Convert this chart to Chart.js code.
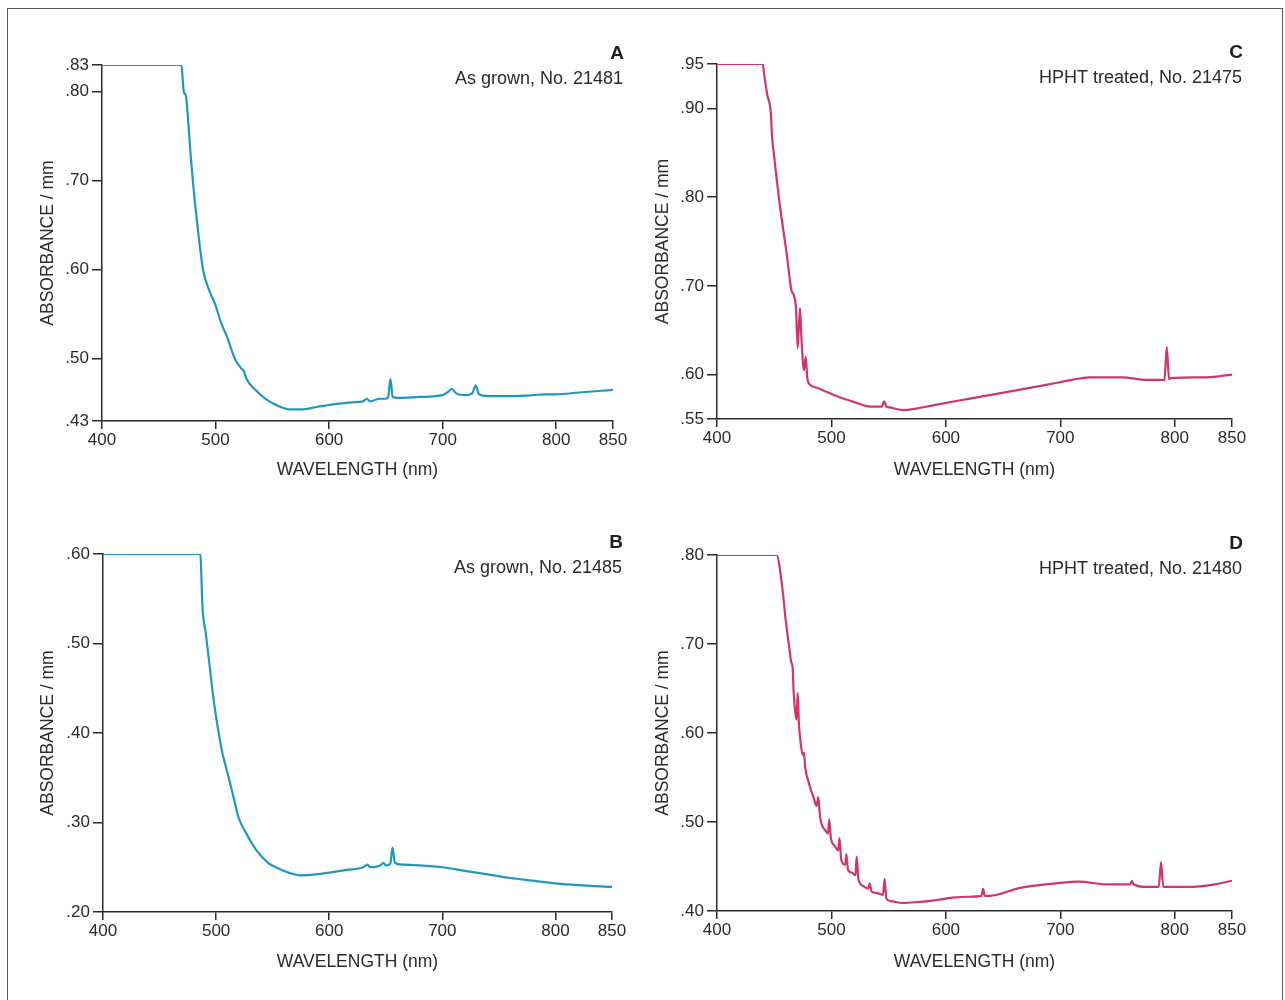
<!DOCTYPE html>
<html>
<head>
<meta charset="utf-8">
<script src="https://cdn.jsdelivr.net/npm/chart.js@4.4.1/dist/chart.umd.min.js"></script>
<style>
    body { margin: 0; background: #fff; width: 1285px; height: 1000px; overflow: hidden; position: relative; }
    .frame { position: absolute; left: 7px; top: 8px; width: 1276px; height: 1010px; border: 1.5px solid #555; box-sizing: border-box; }
    canvas { position: absolute; }
</style>
</head>
<body>
<div class="frame"></div>
<canvas id="chartA" width="620" height="454" style="left:20px; top:25px;"></canvas>
<canvas id="chartC" width="620" height="454" style="left:635px; top:25px;"></canvas>
<canvas id="chartB" width="620" height="456" style="left:20px; top:515px;"></canvas>
<canvas id="chartD" width="620" height="456" style="left:635px; top:515px;"></canvas>
<script>
// wavelength ticks shared by all four panels
const xTicks = [400, 500, 600, 700, 800, 850];

// A - as grown, No. 21481
const aWave = [400, 470, 471, 472, 474, 476, 478, 480, 484, 489, 495, 500, 505, 510, 517, 522, 525, 527, 535, 545,
    555, 565, 575, 590, 600, 620, 630, 633, 636, 645, 650, 652, 654, 656, 660, 680, 700, 705, 708, 712,
    720, 726, 729, 732, 740, 760, 780, 790, 800, 820, 840, 850];
const aAbs = [.83, .83, .815, .80, .795, .765, .73, .70, .65, .60, .575, .56, .54, .525, .50, .49, .486, .478, .465, .454,
    .447, .443, .443, .446, .448, .451, .452, .455, .452, .455, .455, .457, .477, .457, .456, .457, .459, .463, .466, .461,
    .459, .461, .470, .460, .458, .458, .459, .46, .460, .462, .464, .465];
const aTicks = [.43, .50, .60, .70, .80, .83];

// B - as grown, No. 21485
const bWave = [400, 486, 488, 491, 494, 497, 500, 505, 511, 516, 520, 527, 535, 546, 556, 564, 575, 588, 600, 615,
    630, 634, 636, 645, 648, 650, 654, 656, 658, 665, 680, 700, 720, 740, 760, 780, 800, 820, 850];
const bAbs = [.60, .60, .54, .51, .478, .445, .418, .381, .351, .325, .305, .287, .27, .255, .248, .244, .241, .242, .244, .247,
    .25, .253, .25, .252, .255, .252, .254, .272, .255, .253, .252, .25, .246, .242, .238, .235, .232, .23, .228];
const bTicks = [.20, .30, .40, .50, .60];

// C - HPHT treated, No. 21475
const cWave = [400, 440, 441, 444, 447, 448, 450, 455, 461, 465, 467, 469, 470.5, 472.5, 474, 476, 477.5, 479, 482, 488,
    495, 506, 520, 534, 544, 546, 548, 551, 563, 575, 591, 621, 660, 690, 710, 725, 754, 775, 789, 791,
    793, 795, 797, 828, 850];
const cAbs = [.95, .95, .94, .915, .895, .87, .845, .79, .735, .695, .69, .675, .63, .675, .635, .605, .62, .595, .588, .585,
    .581, .575, .569, .564, .564, .570, .564, .563, .560, .562, .566, .573, .582, .589, .594, .597, .597, .594, .594, .594,
    .631, .595, .596, .597, .60];
const cTicks = [.55, .60, .70, .80, .90, .95];

// D - HPHT treated, No. 21480
const dWave = [400, 452, 457, 460, 463, 465, 466, 467, 468.5, 469.5, 470.5, 471.5, 473, 475, 476, 477, 480, 485, 487, 488.5,
    490, 495, 497, 498, 499.5, 503, 506, 507, 508.5, 512, 513, 514.5, 518, 521, 522, 523.5, 528, 532, 533.5, 535,
    540, 545, 546.5, 548, 552, 562, 575, 590, 606, 620, 631, 632.5, 634, 638, 665, 696, 716, 740, 761, 762.5,
    764, 775, 786, 788, 790, 812, 835, 850];
const dAbs = [.80, .80, .764, .727, .697, .679, .675, .645, .622, .615, .645, .612, .59, .575, .578, .562, .545, .525, .518, .528,
    .506, .49, .487, .503, .482, .473, .468, .482, .458, .452, .464, .446, .443, .44, .461, .436, .428, .425, .431, .422,
    .42, .418, .436, .414, .411, .409, .41, .412, .415, .416, .417, .425, .417, .417, .426, .431, .433, .43, .43, .434,
    .43, .427, .427, .455, .427, .427, .43, .434];
const dTicks = [.40, .50, .60, .70, .80];

const panelLetters = ['A', 'B', 'C', 'D'];
const panelNames = ['As grown, No. 21481', 'As grown, No. 21485', 'HPHT treated, No. 21475', 'HPHT treated, No. 21480'];

const FONT = '"Liberation Sans", Arial, Helvetica, sans-serif';
const INK = '#2a2a2a';

// letter + sample name in the top right corner of each plot
const panelLabels = {
    id: 'panelLabels',
    afterDraw(chart, args, opts) {
        const { ctx, chartArea } = chart;
        ctx.save();
        ctx.fillStyle = '#1e1e1e';
        ctx.textAlign = 'right';
        ctx.textBaseline = 'middle';
        ctx.font = 'bold 19px ' + FONT;
        ctx.fillText(opts.letter, chartArea.right + 11, chartArea.top - 11);
        ctx.font = '18px ' + FONT;
        ctx.fillStyle = '#2a2a2a';
        ctx.fillText(opts.name, chartArea.right + 10, chartArea.top + 14);
        ctx.restore();
    }
};

function makePanel(id, idx, wave, abs, yTicks, color, box) {
    const points = wave.map((w, i) => ({ x: w, y: abs[i] }));
    const config = {
        type: 'line',
        data: {
            datasets: [{
                data: points,
                borderColor: color,
                borderWidth: 2.2,
                pointRadius: 0,
                cubicInterpolationMode: 'monotone',
                fill: false
            }]
        },
        options: {
            responsive: false,
            animation: false,
            devicePixelRatio: 1,
            layout: { padding: { top: box.padTop, right: box.padRight, left: 0, bottom: 0 } },
            scales: {
                x: {
                    type: 'linear',
                    min: 400,
                    max: 850,
                    afterBuildTicks: s => { s.ticks = xTicks.map(v => ({ value: v })); },
                    afterFit: s => { s.height = box.xH; },
                    ticks: {
                        color: INK,
                        padding: 1,
                        autoSkip: false,
                        maxRotation: 0,
                        font: { family: FONT, size: 17 }
                    },
                    grid: { drawOnChartArea: false, tickLength: 8, color: INK, lineWidth: 1.5 },
                    border: { color: INK, width: 1.5 },
                    title: {
                        display: true,
                        text: 'WAVELENGTH (nm)',
                        color: INK,
                        padding: 0,
                        font: { family: FONT, size: 17.5, lineHeight: 1 }
                    }
                },
                y: {
                    min: yTicks[0],
                    max: yTicks[yTicks.length - 1],
                    afterBuildTicks: s => { s.ticks = yTicks.map(v => ({ value: v })); },
                    afterFit: s => { s.width = box.yW; },
                    ticks: {
                        color: INK,
                        padding: 3,
                        autoSkip: false,
                        callback: v => v.toFixed(2).replace(/^0/, ''),
                        font: { family: FONT, size: 17 }
                    },
                    grid: { drawOnChartArea: false, tickLength: 10, color: INK, lineWidth: 1.5 },
                    border: { color: INK, width: 1.5 },
                    title: {
                        display: true,
                        text: 'ABSORBANCE / mm',
                        color: INK,
                        padding: { top: 19, bottom: 0 },
                        font: { family: FONT, size: 17.5, lineHeight: 1 }
                    }
                }
            },
            plugins: {
                legend: { display: false },
                tooltip: { enabled: false },
                panelLabels: { letter: panelLetters[idx], name: panelNames[idx] }
            }
        },
        plugins: [panelLabels]
    };
    try {
        new Chart(document.getElementById(id).getContext('2d'), config);
    } catch (error) {
        console.error('Chart initialization failed:', error);
    }
}

document.addEventListener('DOMContentLoaded', function() {
    const blue = '#2097c3';
    const pink = '#d1356c';
    makePanel('chartA', 0, aWave, aAbs, aTicks, blue, { padTop: 40, padRight: 27, yW: 82, xH: 58 });
    makePanel('chartB', 1, bWave, bAbs, bTicks, blue, { padTop: 39, padRight: 28, yW: 83, xH: 59 });
    makePanel('chartC', 2, cWave, cAbs, cTicks, pink, { padTop: 39, padRight: 23, yW: 82, xH: 60 });
    makePanel('chartD', 3, dWave, dAbs, dTicks, pink, { padTop: 40, padRight: 23, yW: 82, xH: 60 });
});
</script>
</body>
</html>
